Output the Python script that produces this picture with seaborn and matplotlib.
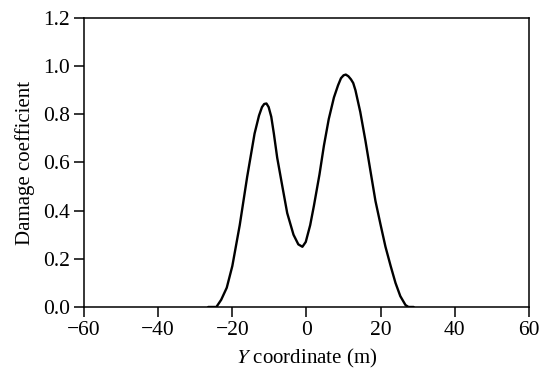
import pandas as pd
import matplotlib
matplotlib.use("Agg")
import matplotlib.pyplot as plt
import seaborn as sns

# values
y_coord = [-26.5, -24.3, -23, -21.5, -20, -18, -16, -14, -12.8, -12, -11.4, -10.8, -10.2,
           -9.5, -8.8, -7.9, -6.5, -5.2, -3.5, -2.2, -1.1, -0.2, 1, 2, 3.5, 4.7, 6, 7.4,
           8.5, 9.3, 10, 10.6, 11.3, 12, 12.6, 13.2, 14.5, 15.9, 17.3, 18.6, 20, 21.3,
           22.7, 24, 25.3, 26.7, 27.5, 28.9]
damage = [0, 0, 0.03, 0.08, 0.17, 0.34, 0.54, 0.72, 0.795, 0.83, 0.843, 0.845, 0.83,
          0.79, 0.72, 0.62, 0.50, 0.39, 0.30, 0.26, 0.25, 0.27, 0.34, 0.42, 0.55, 0.67,
          0.78, 0.87, 0.92, 0.95, 0.962, 0.965, 0.958, 0.945, 0.93, 0.90, 0.81, 0.69,
          0.56, 0.44, 0.34, 0.25, 0.17, 0.10, 0.045, 0.008, 0, 0]
x_ticks = [-60, -40, -20, 0, 20, 40, 60]
y_ticks = [0.0, 0.2, 0.4, 0.6, 0.8, 1.0, 1.2]

df = pd.DataFrame({"y": y_coord, "d": damage})

sns.set_theme(style="ticks")
plt.rcParams['font.family'] = ['Liberation Serif', 'DejaVu Serif']
plt.rcParams['mathtext.fontset'] = 'stix'

fig = plt.figure(figsize=(5.5, 3.86), dpi=100)
ax = fig.add_axes([0.1527, 0.2047, 0.8091, 0.7487])

sns.lineplot(data=df, x="y", y="d", ax=ax, color="black", linewidth=1.7, sort=False)

ax.set_xlim(-60, 60)
ax.set_ylim(0, 1.2)
ax.set_xticks(x_ticks)
ax.set_yticks(y_ticks)
ax.set_xticklabels([f"{t}".replace("-", "\u2212") for t in x_ticks])
ax.set_yticklabels([f"{t:.1f}" for t in y_ticks])
ax.tick_params(labelsize=15.5, width=1.1, length=7, direction="out", color="black",
               labelcolor="black", pad=3)
for s in ax.spines.values():
    s.set_linewidth(1.1)
    s.set_color("black")

ax.set_xlabel("$\\mathit{Y}$ coordinate (m)", fontsize=15, color="black", labelpad=5)
ax.set_ylabel("Damage coefficient", fontsize=15, color="black", labelpad=6)

fig.savefig("out.png", dpi=100)
